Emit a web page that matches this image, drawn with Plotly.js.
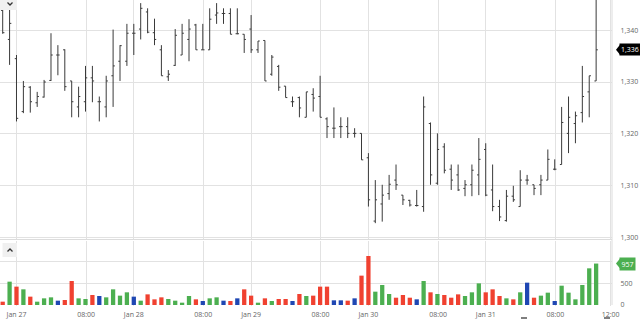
<!DOCTYPE html>
<html><head><meta charset="utf-8">
<script src="https://cdn.plot.ly/plotly-3.0.1.min.js"></script>
<style>html,body{margin:0;padding:0;background:#fff}#chart{width:640px;height:319px}</style>
</head><body><div id="chart"></div>
<script>
// ---- data ----
const opens  = [1343.8,1338.2,1334.5,1324.3,1329.0,1326.0,1327.1,1330.3,1335.2,1336.2,
                1330.2,1325.2,1326.2,1330.8,1326.2,1325.2,1331.2,1334.0,1334.0,1339.4,
                1340.2,1343.5,1339.5,1336.2,1331.0,1333.2,1335.2,1338.2,1341.0,1336.2,
                1336.2,1342.9,1343.2,1343.2,1339.3,1339.2,1340.2,1336.2,1338.0,1331.5,
                1333.0,1329.2,1326.2,1327.0,1323.2,1327.6,1327.2,1322.9,1321.1,1321.4,
                1321.4,1320.1,1320.1,1315.4,1303.2,1306.5,1308.5,1311.1,1308.2,1307.2,
                1306.2,1306.0,1322.0,1310.5,1317.5,1313.2,1312.1,1309.5,1310.2,1312.1,
                1317.0,1309.2,1306.0,1303.3,1308.0,1306.0,1311.1,1310.2,1310.2,1311.1,
                1313.2,1314.1,1320.1,1322.0,1324.1,1328.1,1330.2];
const highs  = [1344.8,1343.9,1335.2,1330.2,1329.2,1328.1,1330.4,1339.4,1337.1,1336.3,
                1330.2,1329.1,1333.1,1333.1,1327.2,1331.2,1340.1,1337.1,1341.2,1341.2,
                1345.2,1344.2,1342.2,1337.1,1332.3,1340.2,1341.2,1342.1,1341.2,1341.2,
                1344.2,1345.2,1344.2,1344.2,1344.2,1339.2,1342.9,1337.9,1338.0,1335.2,
                1333.3,1329.2,1327.2,1327.2,1328.1,1328.8,1331.2,1323.2,1325.1,1323.2,
                1323.2,1321.1,1320.1,1316.3,1311.1,1310.2,1312.1,1314.1,1308.2,1307.3,
                1309.2,1327.2,1322.2,1320.1,1318.2,1314.1,1314.1,1311.1,1314.1,1319.2,
                1318.2,1314.1,1307.3,1309.2,1310.0,1313.0,1312.1,1310.2,1312.1,1317.0,
                1315.1,1325.2,1327.2,1324.3,1333.1,1331.2,1348.0];
const lows   = [1339.3,1333.3,1322.4,1324.0,1324.1,1325.2,1327.0,1330.2,1331.3,1328.3,
                1323.2,1323.2,1324.3,1326.1,1322.4,1323.2,1325.2,1330.2,1333.1,1335.2,
                1338.2,1339.4,1337.1,1331.2,1330.2,1333.1,1335.2,1334.0,1336.2,1336.2,
                1336.2,1341.2,1341.2,1339.2,1339.2,1335.6,1335.6,1335.6,1330.2,1331.2,
                1328.3,1327.0,1325.2,1323.2,1323.2,1324.3,1323.2,1319.2,1319.2,1319.2,
                1319.2,1319.3,1315.0,1306.0,1302.8,1303.1,1307.3,1309.2,1306.3,1306.0,
                1306.0,1305.0,1310.2,1310.2,1312.4,1309.2,1309.0,1308.0,1308.0,1308.2,
                1308.0,1305.1,1303.2,1303.1,1306.9,1306.0,1310.2,1308.2,1308.2,1311.1,
                1313.0,1314.1,1316.3,1318.2,1322.2,1323.2,1330.2];
const closes = [1339.5,1341.3,1323.0,1329.1,1326.2,1327.2,1330.0,1335.2,1335.2,1329.1,
                1326.2,1327.2,1330.8,1330.2,1326.2,1330.2,1333.1,1337.0,1339.4,1339.4,
                1344.2,1339.6,1338.2,1331.2,1331.5,1339.0,1339.4,1340.2,1336.2,1336.2,
                1342.1,1343.3,1343.2,1339.2,1339.3,1338.2,1336.2,1337.9,1330.2,1334.8,
                1329.0,1327.0,1326.2,1325.0,1328.1,1326.9,1323.2,1321.4,1321.1,1321.4,
                1320.1,1320.1,1315.0,1307.3,1307.3,1308.2,1310.3,1310.2,1307.3,1306.3,
                1306.2,1325.2,1312.1,1317.0,1313.0,1311.1,1309.2,1310.2,1313.0,1315.1,
                1308.2,1306.0,1304.0,1308.0,1307.3,1311.1,1311.1,1309.5,1311.1,1315.1,
                1313.2,1322.2,1323.2,1323.5,1327.2,1331.2,1336.2];
const volumes = [77,539,424,362,193,77,154,177,100,116,
                 554,154,139,231,208,177,362,216,293,193,
                 100,246,131,177,139,100,54,208,131,92,
                 154,177,100,92,154,362,216,54,154,92,
                 139,139,92,254,208,216,424,424,108,108,
                 100,154,678,1132,308,462,254,169,231,169,
                 131,554,293,254,231,169,246,208,293,500,
                 293,362,208,154,131,293,516,169,216,285,
                 92,446,285,131,462,847,957];
const tickLabels = ['Jan 27','08:00','Jan 28','08:00','Jan 29','08:00','Jan 30','08:00','Jan 31','08:00','12:00'];
const tickPos    = [2, 12.1, 19, 29.07, 36, 46.05, 53, 63.1, 70, 80.1, 88.1];
const priceTicks = [1300,1310,1320,1330,1340];
const volTicks   = [0,500,1000];

// ---- styling ----
const GREEN='#4caf50', RED='#f04130', BLUE='#1f47b3', GRID='#e2e2e2';
const FS=7;
const W=612, H=306;
const px=(x)=>x/W, py=(y)=>1-y/H;
const P=(x,y)=>`${px(x)} ${py(y)}`;

const idx = opens.map((_,i)=>i);
const volColors = opens.map((o,i)=> closes[i]>o ? GREEN : (closes[i]<o ? RED : BLUE));
const lastClose = closes[closes.length-1];
const lastVol = volumes[volumes.length-1];

const traces = [
  {type:'ohlc', x:idx, open:opens, high:highs, low:lows, close:closes,
   xaxis:'x', yaxis:'y', tickwidth:0.25, hoverinfo:'skip',
   increasing:{line:{color:'#3a3a3a', width:1}}, decreasing:{line:{color:'#3a3a3a', width:1}}},
  {type:'bar', x:idx, y:volumes, xaxis:'x', yaxis:'y2', width:0.62,
   marker:{color:volColors, line:{width:0}}, hoverinfo:'skip'}
];

const layout = {
  width:640, height:319, margin:{l:0,r:28,t:0,b:13},
  paper_bgcolor:'#fff', plot_bgcolor:'#fff', showlegend:false,
  font:{family:'Open Sans, sans-serif', size:FS, color:'#666'},
  xaxis:{range:[-0.39,88.3], anchor:'y2', tickmode:'array', tickvals:tickPos, ticktext:tickLabels,
         showgrid:true, gridcolor:GRID, gridwidth:1, zeroline:false, ticks:'outside', ticklen:2,
         tickcolor:'rgba(0,0,0,0)', showline:false,
         rangeslider:{visible:false}, tickfont:{size:FS,color:'#666'}, fixedrange:true},
  yaxis:{domain:[py(239),1], range:[1299.75,1345.8], side:'right', tickmode:'array', tickvals:priceTicks,
         tickformat:',d', gridcolor:GRID, zeroline:false, ticks:'outside', ticklen:6,
         tickcolor:'rgba(0,0,0,0)', showline:false, tickfont:{size:FS,color:'#666'}},
  yaxis2:{domain:[0,py(241)], range:[-23,1478], side:'right', tickmode:'array', tickvals:volTicks,
         ticktext:volTicks.map(v=> v===1000 ? '' : v.toLocaleString('en-US')),
         gridcolor:GRID, zeroline:false, ticks:'outside', ticklen:6,
         tickcolor:'rgba(0,0,0,0)', showline:false, tickfont:{size:FS,color:'#666'}},
  shapes:[
    {type:'line', xref:'paper', yref:'paper', x0:0, x1:1, y0:py(239.5), y1:py(239.5), line:{color:'#dcdcdc', width:1}},
    {type:'line', xref:'paper', yref:'paper', x0:1, x1:1, y0:py(305), y1:1, line:{color:'#dcdcdc', width:1}},
    {type:'rect', xref:'paper', yref:'paper', x0:0, x1:px(17), y0:py(10), y1:1, fillcolor:'#f0f0f0', line:{width:0}},
    {type:'path', xref:'paper', yref:'paper', path:`M ${P(7.5,2.5)} L ${P(10,5)} L ${P(12.5,2.5)}`, line:{color:'#333', width:1.3}},
    {type:'rect', xref:'paper', yref:'paper', x0:px(2.5), x1:px(17), y0:py(257), y1:py(243), fillcolor:'#f0f0f0', line:{width:0}},
    {type:'path', xref:'paper', yref:'paper', path:`M ${P(7.5,251.5)} L ${P(10,249)} L ${P(12.5,251.5)}`, line:{color:'#333', width:1.3}},
    {type:'line', xref:'paper', yref:'paper', x0:px(521), x1:px(527), y0:py(318), y1:py(318), line:{color:'#555', width:1.5}},
    {type:'line', xref:'paper', yref:'paper', x0:px(604), x1:px(610), y0:py(318), y1:py(318), line:{color:'#555', width:1.5}},
    {type:'path', xref:'paper', yref:'y', xsizemode:'pixel', ysizemode:'pixel', xanchor:1, yanchor:lastClose,
     path:'M 4 0 L 8 5 L 8 -5 Z', fillcolor:'#000', line:{width:0}},
    {type:'path', xref:'paper', yref:'y2', xsizemode:'pixel', ysizemode:'pixel', xanchor:1, yanchor:lastVol,
     path:'M 4 0 L 8 5 L 8 -5 Z', fillcolor:GREEN, line:{width:0}}
  ],
  annotations:[
    {xref:'paper', x:1, xanchor:'left', xshift:7, yref:'y', y:lastClose, yanchor:'middle',
     text:lastClose.toLocaleString('en-US',{maximumFractionDigits:0}), showarrow:false,
     bgcolor:'#000', font:{color:'#fff', size:FS}, borderpad:1},
    {xref:'paper', x:1, xanchor:'left', xshift:7, yref:'y2', y:lastVol, yanchor:'middle',
     text:String(lastVol), showarrow:false, bgcolor:GREEN, font:{color:'#fff', size:FS}, borderpad:1.5}
  ]
};
Plotly.newPlot('chart', traces, layout, {displayModeBar:false, staticPlot:true});
</script></body></html>
